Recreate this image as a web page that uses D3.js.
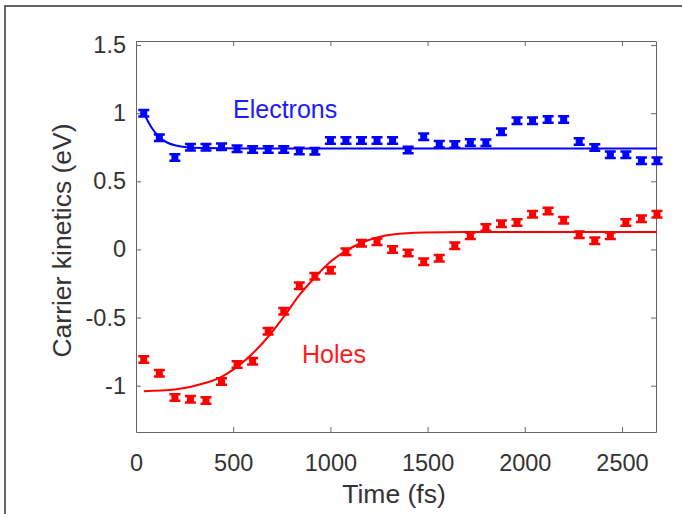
<!DOCTYPE html>
<html>
<head>
<meta charset="utf-8">
<script src="https://cdn.jsdelivr.net/npm/d3@7"></script>
<style>
  body { margin: 0; background: #fff; }
  text { font-family: "Liberation Sans", Arial, sans-serif; }
</style>
</head>
<body>
<div class="chart"></div>
<script>
var width = 682,
  height = 514

// sample times (fs)
var times = [40, 120, 200, 280, 360, 440, 520, 600, 680, 760, 840, 920, 1000, 1080, 1160, 1240, 1320,
  1400, 1480, 1560, 1640, 1720, 1800, 1880, 1960, 2040, 2120, 2200, 2280, 2360, 2440, 2520, 2600, 2680]

var electrons = [1.00, 0.82, 0.675, 0.75, 0.75, 0.753, 0.74, 0.734, 0.734, 0.734, 0.722, 0.72, 0.80, 0.80,
  0.80, 0.80, 0.80, 0.73, 0.827, 0.773, 0.771, 0.785, 0.783, 0.864, 0.944, 0.944, 0.954, 0.954, 0.793,
  0.749, 0.695, 0.695, 0.651, 0.651]

var holes = [-0.808, -0.908, -1.087, -1.099, -1.109, -0.969, -0.844, -0.820, -0.600, -0.453, -0.267, -0.196,
  -0.152, -0.017, 0.046, 0.056, 0.0, -0.027, -0.091, -0.064, 0.027, 0.10, 0.161, 0.188, 0.198, 0.259,
  0.283, 0.215, 0.107, 0.063, 0.10, 0.198, 0.225, 0.259]

// fitted curves
var electronFitT = [40, 80, 120, 160, 200, 240, 280, 360, 440, 600, 2680]
var electronFitV = [1.0, 0.895, 0.823, 0.785, 0.765, 0.754, 0.748, 0.744, 0.742, 0.741, 0.741]

var holeFitT = [40, 200, 360, 440, 520, 600, 680, 760, 840, 920, 1000, 1080, 1160, 1240, 1320, 1480, 1700, 2680]
var holeFitV = [-1.04, -1.028, -0.979, -0.935, -0.862, -0.764, -0.641, -0.495, -0.336, -0.206, -0.091,
  -0.01, 0.049, 0.088, 0.11, 0.125, 0.128, 0.128]

var xTicks = [0, 500, 1000, 1500, 2000, 2500]
var yTicks = [-1, -0.5, 0, 0.5, 1, 1.5]

var plotLeft = 136, plotRight = 656, plotTop = 41, plotBottom = 432

var svg = d3.select('.chart')
  .append('svg')
  .attr('width', width)
  .attr('height', height)

// outer frame (left + top only)
svg.append('path')
  .attr('d', 'M5,514 V6 H682')
  .attr('fill', 'none')
  .attr('stroke', '#333')
  .attr('stroke-width', 1.5)

var xScale = d3.scaleLinear().domain([0, 2675]).range([plotLeft, plotRight])
var yScale = d3.scaleLinear().domain([-1.34, 1.53]).range([plotBottom, plotTop])

function styleAxis(g) {
  g.selectAll('.domain').attr('stroke', '#666')
  g.selectAll('.tick line').attr('stroke', '#666')
  g.selectAll('text').attr('fill', '#333').style('font-size', '23.5px')
}

svg.append('g')
  .attr('transform', 'translate(0,' + plotBottom + ')')
  .call(d3.axisBottom(xScale).tickValues(xTicks).tickSizeInner(-5).tickSizeOuter(0).tickPadding(22)
    .tickFormat(function(d) { return String(d) }))
  .call(styleAxis)

svg.append('g')
  .attr('transform', 'translate(0,' + plotTop + ')')
  .call(d3.axisTop(xScale).tickValues(xTicks).tickSizeInner(-5).tickSizeOuter(0).tickFormat(''))
  .call(styleAxis)

svg.append('g')
  .attr('transform', 'translate(' + plotLeft + ',0)')
  .call(d3.axisLeft(yScale).tickValues(yTicks).tickSizeInner(-5).tickSizeOuter(0).tickPadding(10)
    .tickFormat(function(d) { return String(d) }))
  .call(styleAxis)

svg.append('g')
  .attr('transform', 'translate(' + plotRight + ',0)')
  .call(d3.axisRight(yScale).tickValues(yTicks).tickSizeInner(-5).tickSizeOuter(0).tickFormat(''))
  .call(styleAxis)

svg.selectAll('.tick text').attr('font-family', '"Liberation Sans", Arial, sans-serif')

// fit lines
var line = d3.line()
  .x(function(d) { return xScale(d[0]) })
  .y(function(d) { return yScale(d[1]) })
  .curve(d3.curveMonotoneX)

svg.append('path')
  .datum(d3.zip(electronFitT, electronFitV))
  .attr('d', line)
  .attr('fill', 'none')
  .attr('stroke', '#0000ff')
  .attr('stroke-width', 2)

svg.append('path')
  .datum(d3.zip(holeFitT, holeFitV))
  .attr('d', line)
  .attr('fill', 'none')
  .attr('stroke', '#ff0000')
  .attr('stroke-width', 2)

// error-bar style markers
var marker = 'M-5.5,-4.5H5.5V-2H3.5V2H5.5V4.5H-5.5V2H-3.5V-2H-5.5Z'

svg.selectAll('.emark')
  .data(d3.zip(times, electrons))
  .enter()
  .append('path')
  .attr('class', 'emark')
  .attr('d', marker)
  .attr('transform', function(d) { return 'translate(' + xScale(d[0]) + ',' + yScale(d[1]) + ')' })
  .attr('fill', '#0000ff')

svg.selectAll('.hmark')
  .data(d3.zip(times, holes))
  .enter()
  .append('path')
  .attr('class', 'hmark')
  .attr('d', marker)
  .attr('transform', function(d) { return 'translate(' + xScale(d[0]) + ',' + yScale(d[1]) + ')' })
  .attr('fill', '#ff0000')

// labels
svg.append('text')
  .attr('x', 233)
  .attr('y', 118)
  .attr('fill', '#1a1aff')
  .style('font-size', '25px')
  .text('Electrons')

svg.append('text')
  .attr('x', 302)
  .attr('y', 363)
  .attr('fill', '#ff1a1a')
  .style('font-size', '25px')
  .text('Holes')

svg.append('text')
  .attr('x', (plotLeft + plotRight) / 2 - 2)
  .attr('y', 503)
  .attr('text-anchor', 'middle')
  .attr('fill', '#333')
  .style('font-size', '26.5px')
  .text('Time (fs)')

svg.append('text')
  .attr('transform', 'translate(71,' + ((plotTop + plotBottom) / 2 + 4) + ') rotate(-90)')
  .attr('text-anchor', 'middle')
  .attr('fill', '#333')
  .style('font-size', '26.5px')
  .text('Carrier kinetics (eV)')
</script>
</body>
</html>
